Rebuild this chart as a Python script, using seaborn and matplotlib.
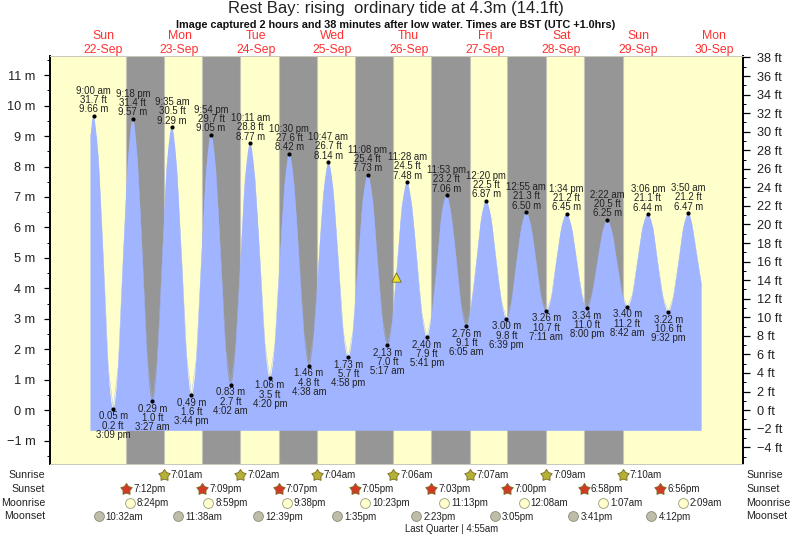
import matplotlib
matplotlib.use("Agg")
import matplotlib.pyplot as plt
from matplotlib.path import Path
from matplotlib.patches import PathPatch
import seaborn as sns

# All times are hours after 00:00 on 22-Sep (BST)
tide_hours = [8.0, 9.0, 10.5, 12.1, 13.6, 15.15, 16.7, 18.2, 19.8, 21.3, 22.8, 24.4, 25.9, 27.45, 29.0, 30.5, 32.0, 33.58,
              35.1, 36.7, 38.2, 39.73, 41.3, 42.8, 44.4, 45.9, 47.4, 49.0, 50.5, 52.03, 53.6, 55.1, 56.6, 58.18,
              59.7, 61.3, 62.8, 64.33, 65.9, 67.4, 69.0, 70.5, 72.0, 73.6, 75.1, 76.63, 78.2, 79.7, 81.2, 82.78,
              84.3, 85.9, 87.4, 88.97, 90.5, 92.0, 93.6, 95.13, 96.7, 98.2, 99.7, 101.28, 102.8, 104.4, 105.9, 107.47,
              109.0, 110.6, 112.1, 113.68, 115.2, 116.8, 118.3, 119.88, 121.4, 123.0, 124.5, 126.08, 127.6, 129.2, 130.8, 132.33,
              133.9, 135.5, 137.1, 138.65, 140.2, 141.8, 143.4, 144.92, 146.5, 148.0, 149.6, 151.18, 152.8, 154.4, 156.0, 157.57,
              159.2, 160.8, 162.4, 164.0, 165.6, 167.2, 168.8, 170.37, 172.0, 173.5, 175.1, 176.7, 178.3, 179.9, 181.5, 183.1,
              184.7, 186.3, 187.9, 189.53, 191.1, 192.7, 194.3, 195.83, 197.0, 198.5, 200.0]
tide_metres = [8.95, 9.66, 8.3, 4.9, 1.4, 0.05, 1.4, 4.8, 8.2, 9.57, 8.2, 4.9, 1.6, 0.29, 1.6, 4.8, 8.0, 9.29,
               8.0, 4.9, 1.8, 0.49, 1.7, 4.8, 7.9, 9.05, 7.9, 4.9, 2.0, 0.83, 2.0, 4.8, 7.6, 8.77,
               7.6, 4.9, 2.2, 1.06, 2.1, 4.7, 7.4, 8.42, 7.4, 4.9, 2.5, 1.46, 2.5, 4.8, 7.1, 8.14,
               7.2, 4.9, 2.6, 1.73, 2.6, 4.7, 6.9, 7.73, 6.9, 4.9, 3.0, 2.13, 2.9, 4.8, 6.7, 7.48,
               6.7, 4.9, 3.2, 2.40, 3.1, 4.7, 6.4, 7.06, 6.4, 4.9, 3.4, 2.76, 3.4, 4.8, 6.3, 6.87,
               6.3, 4.9, 3.6, 3.00, 3.5, 4.8, 6.0, 6.50, 6.0, 4.9, 3.7, 3.26, 3.7, 4.9, 6.0, 6.45,
               6.0, 4.9, 3.8, 3.34, 3.8, 4.8, 5.8, 6.25, 5.8, 4.8, 3.8, 3.40, 3.8, 4.9, 6.0, 6.44,
               6.0, 4.8, 3.7, 3.22, 3.7, 4.8, 6.0, 6.47, 6.1, 5.1, 4.1]
tide_floor = -0.68

high_hours = [9.0, 21.3, 33.58, 45.9, 58.18, 70.5, 82.78, 95.13, 107.47, 119.88, 132.33, 144.92, 157.57, 170.37, 183.1, 195.83]
high_m = ["9.66", "9.57", "9.29", "9.05", "8.77", "8.42", "8.14", "7.73", "7.48", "7.06", "6.87", "6.50", "6.45", "6.25", "6.44", "6.47"]
high_ft = ["31.7", "31.4", "30.5", "29.7", "28.8", "27.6", "26.7", "25.4", "24.5", "23.2", "22.5", "21.3", "21.2", "20.5", "21.1", "21.2"]
high_time = ["9:00 am", "9:18 pm", "9:35 am", "9:54 pm", "10:11 am", "10:30 pm", "10:47 am", "11:08 pm", "11:28 am", "11:53 pm",
             "12:20 pm", "12:55 am", "1:34 pm", "2:22 am", "3:06 pm", "3:50 am"]
low_hours = [15.15, 27.45, 39.73, 52.03, 64.33, 76.63, 88.97, 101.28, 113.68, 126.08, 138.65, 151.18, 164.0, 176.7, 189.53]
low_m = ["0.05", "0.29", "0.49", "0.83", "1.06", "1.46", "1.73", "2.13", "2.40", "2.76", "3.00", "3.26", "3.34", "3.40", "3.22"]
low_ft = ["0.2", "1.0", "1.6", "2.7", "3.5", "4.8", "5.7", "7.0", "7.9", "9.1", "9.8", "10.7", "11.0", "11.2", "10.6"]
low_time = ["3:09 pm", "3:27 am", "3:44 pm", "4:02 am", "4:20 pm", "4:38 am", "4:58 pm", "5:17 am", "5:41 pm", "6:05 am",
            "6:39 pm", "7:11 am", "8:00 pm", "8:42 am", "9:32 pm"]

now_hour = 103.92
now_metres = 4.37

day_names = ["Sun", "Mon", "Tue", "Wed", "Thu", "Fri", "Sat", "Sun", "Mon"]
day_dates = ["22-Sep", "23-Sep", "24-Sep", "25-Sep", "26-Sep", "27-Sep", "28-Sep", "29-Sep", "30-Sep"]
day_noons = [12, 36, 60, 84, 108, 132, 156, 180, 204]

sunset_hours = [19.2, 43.15, 67.12, 91.08, 115.05, 139.0, 162.97, 186.93]
sunset_text = ["7:12pm", "7:09pm", "7:07pm", "7:05pm", "7:03pm", "7:00pm", "6:58pm", "6:56pm"]
sunrise_hours = [31.02, 55.03, 79.07, 103.1, 127.12, 151.15, 175.17]
sunrise_text = ["7:01am", "7:02am", "7:04am", "7:06am", "7:07am", "7:09am", "7:10am"]
moonrise_hours = [20.4, 44.98, 69.63, 94.38, 119.22, 144.13, 169.12, 194.15]
moonrise_text = ["8:24pm", "8:59pm", "9:38pm", "10:23pm", "11:13pm", "12:08am", "1:07am", "2:09am"]
moonset_hours = [10.53, 35.63, 60.65, 85.58, 110.38, 135.08, 159.68, 184.2]
moonset_text = ["10:32am", "11:38am", "12:39pm", "1:35pm", "2:23pm", "3:05pm", "3:41pm", "4:12pm"]

metre_ticks = list(range(-1, 12))
foot_ticks = list(range(-4, 40, 2))

W, H = 793, 537
L, R, T, B = 49.5, 743.0, 56.0, 464.0
YELLOW, GRAY, BLUE = "#FFFFCC", "#969696", "#A0B4FF"

sns.set_style("white")
plt.rcParams["font.family"] = ["Liberation Sans", "DejaVu Sans"]

fig = plt.figure(figsize=(W / 100, H / 100), dpi=100)
ax = fig.add_axes([L / W, 1 - B / H, (R - L) / W, (B - T) / H])
ax.set_xlim(-4.87, 213.0)
ax.set_ylim(-1.77, 11.63)
ax.set_facecolor(YELLOW)

for s, r in zip(sunset_hours, sunrise_hours):
    ax.axvspan(s, r, color=GRAY, lw=0.8, ec="#c4c4b8", zorder=1)

# Water body: a smooth (Catmull-Rom) outline through the readings down to the floor
verts = [(tide_hours[0], tide_floor), (tide_hours[0], tide_metres[0])]
codes = [Path.MOVETO, Path.LINETO]
n = len(tide_hours)
for i in range(n - 1):
    a, b = max(i - 1, 0), min(i + 2, n - 1)
    verts += [(tide_hours[i] + (tide_hours[i + 1] - tide_hours[a]) / 6, tide_metres[i] + (tide_metres[i + 1] - tide_metres[a]) / 6),
              (tide_hours[i + 1] - (tide_hours[b] - tide_hours[i]) / 6, tide_metres[i + 1] - (tide_metres[b] - tide_metres[i]) / 6),
              (tide_hours[i + 1], tide_metres[i + 1])]
    codes += [Path.CURVE4] * 3
verts += [(tide_hours[-1], tide_floor), (tide_hours[0], tide_floor)]
codes += [Path.LINETO, Path.CLOSEPOLY]
ax.add_patch(PathPatch(Path(verts, codes), fc=BLUE, ec="none", lw=0, zorder=2))
sns.lineplot(x=tide_hours, y=tide_metres, color=BLUE, lw=0.3, sort=False, estimator=None, ax=ax, zorder=2)

sns.scatterplot(x=high_hours, y=[float(v) for v in high_m], color="black", s=9, lw=0, ax=ax, zorder=4)
sns.scatterplot(x=low_hours, y=[float(v) for v in low_m], color="black", s=9, lw=0, ax=ax, zorder=4)
sns.scatterplot(x=[now_hour], y=[now_metres], marker="^", color="#EDE32E", edgecolor="#6b6b20", s=45, lw=0.6, ax=ax, zorder=5)

px = 72 / 100
TXT = "#222222"
def note(x, y, s, dy):
    ax.annotate(s, (x, y), xytext=(0, dy * px), textcoords="offset points", ha="center", va="center",
                fontsize=6.9, color=TXT, zorder=6, annotation_clip=False)

for x, m, f, t in zip(high_hours, high_m, high_ft, high_time):
    y = float(m)
    note(x, y, m + " m", 6.5)
    note(x, y, f + " ft", 16)
    note(x, y, t, 25)
for x, m, f, t in zip(low_hours, low_m, low_ft, low_time):
    y = float(m)
    note(x, y, m + " m", -7.5)
    note(x, y, f + " ft", -17)
    note(x, y, t, -26)

xform = ax.get_xaxis_transform()
def yf(py):
    return (B - py) / (B - T)

for x, a, b in zip(day_noons, day_names, day_dates):
    ax.text(x, yf(36), a, transform=xform, ha="center", va="center", color="#FF3030", fontsize=8.8)
    ax.text(x, yf(50), b, transform=xform, ha="center", va="center", color="#FF3030", fontsize=8.8)

star = Path.unit_regular_star(5, innerCircle=0.6)
rows = [("Sunrise", 475, sunrise_hours, sunrise_text, star, "#B5B036", "#7a6a20", 75),
        ("Sunset", 489, sunset_hours, sunset_text, star, "#D23A26", "#7a6a20", 75),
        ("Moonrise", 502.5, moonrise_hours, moonrise_text, "o", "#FFFFCC", "#9a9a80", 50),
        ("Moonset", 516, moonset_hours, moonset_text, "o", "#BEBEA8", "#8a8a78", 50)]
for name, py, xs, texts, mk, fc, ec, size in rows:
    sns.scatterplot(x=xs, y=[yf(py)] * len(xs), marker=mk, color=fc, edgecolor=ec, s=size, lw=0.6,
                    transform=xform, clip_on=False, ax=ax, zorder=5)
    for x, t in zip(xs, texts):
        ax.annotate(t, (x, yf(py + 0.5)), xycoords=xform, xytext=(7 * px, 0), textcoords="offset points",
                    ha="left", va="center", fontsize=7.0, color=TXT, annotation_clip=False)
    fig.text(45 / W, 1 - py / H, name, ha="right", va="center", fontsize=7.7, color=TXT)
    fig.text(746.5 / W, 1 - py / H, name, ha="left", va="center", fontsize=7.7, color=TXT)

fig.text(452 / W, 1 - 529.5 / H, "Last Quarter | 4:55am", ha="center", va="center", fontsize=6.9, color=TXT)
fig.text(395.5 / W, 1 - 8.5 / H, "Rest Bay: rising  ordinary tide at 4.3m (14.1ft)", ha="center", va="center",
         fontsize=12.0, color="#222222")
fig.text(396 / W, 1 - 24.5 / H, "Image captured 2 hours and 38 minutes after low water. Times are BST (UTC +1.0hrs)",
         ha="center", va="center", fontsize=7.8, fontweight="bold", color="#111111")

ax.set_xticks([])
ax.set_yticks(metre_ticks)
ax.set_yticklabels([f"{v} m".replace("-", "\u2212") for v in metre_ticks], fontsize=9.2, color=TXT)
ax.set_yticks([v + 0.5 for v in range(-2, 12) if -1.77 < v + 0.5 < 11.63], minor=True)
ax.tick_params(axis="y", which="major", length=4.5, width=0.9, color="black", left=True, pad=5.5)
ax.tick_params(axis="y", which="minor", length=2.2, width=0.7, color="black", left=True)

ax2 = ax.twinx()
ax2.set_ylim(-1.77 * 3.2808, 11.63 * 3.2808)
ax2.set_yticks(foot_ticks)
ax2.set_yticklabels([f"{v} ft".replace("-", "\u2212") for v in foot_ticks], fontsize=9.2, color=TXT)
ax2.set_yticks([v + 1 for v in range(-6, 38, 2) if -5.8 < v + 1 < 38.1], minor=True)
ax2.tick_params(axis="y", which="major", length=5, width=0.9, color="black", right=True, pad=5)
ax2.tick_params(axis="y", which="minor", length=2.5, width=0.7, color="black", right=True)
ax2.grid(False)
ax.grid(False)

for a in (ax, ax2):
    for side in ("top", "bottom"):
        a.spines[side].set_color("#c8c8bc")
        a.spines[side].set_linewidth(0.7)
    a.spines["left"].set_color("black")
    a.spines["left"].set_linewidth(1.2)
    a.spines["right"].set_color("black")
    a.spines["right"].set_linewidth(1.2)

fig.savefig("out.png", dpi=100)
